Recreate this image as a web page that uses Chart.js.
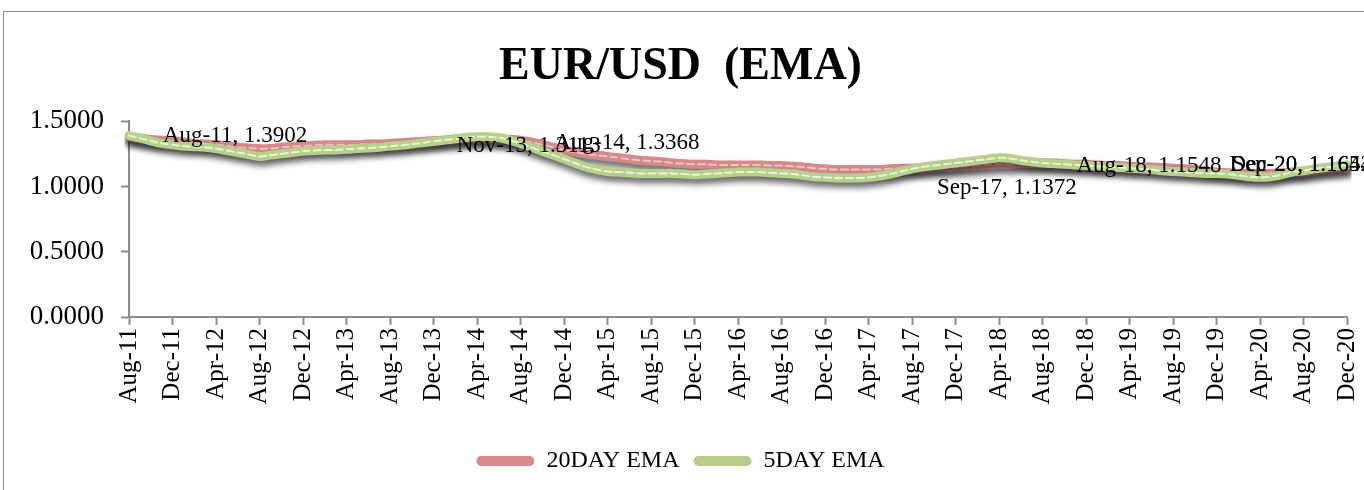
<!DOCTYPE html>
<html>
<head>
<meta charset="utf-8">
<script src="https://cdn.jsdelivr.net/npm/chart.js@4/dist/chart.umd.min.js"></script>
<style>
    body { margin: 0; background: #fff; }
    #frame { position: absolute; left: 3px; top: 11px; width: 1400px; height: 520px; border: 1px solid #8c8c8c; }
    #chart { position: absolute; left: 0; top: 0; }
</style>
</head>
<body>
<div id="frame"></div>
<canvas id="chart" width="1364" height="490"></canvas>
<script>
// Month categories, Aug-11 .. Dec-20
const months = [
    'Aug-11','Sep-11','Oct-11','Nov-11','Dec-11',
    'Jan-12','Feb-12','Mar-12','Apr-12','May-12','Jun-12','Jul-12','Aug-12','Sep-12','Oct-12','Nov-12','Dec-12',
    'Jan-13','Feb-13','Mar-13','Apr-13','May-13','Jun-13','Jul-13','Aug-13','Sep-13','Oct-13','Nov-13','Dec-13',
    'Jan-14','Feb-14','Mar-14','Apr-14','May-14','Jun-14','Jul-14','Aug-14','Sep-14','Oct-14','Nov-14','Dec-14',
    'Jan-15','Feb-15','Mar-15','Apr-15','May-15','Jun-15','Jul-15','Aug-15','Sep-15','Oct-15','Nov-15','Dec-15',
    'Jan-16','Feb-16','Mar-16','Apr-16','May-16','Jun-16','Jul-16','Aug-16','Sep-16','Oct-16','Nov-16','Dec-16',
    'Jan-17','Feb-17','Mar-17','Apr-17','May-17','Jun-17','Jul-17','Aug-17','Sep-17','Oct-17','Nov-17','Dec-17',
    'Jan-18','Feb-18','Mar-18','Apr-18','May-18','Jun-18','Jul-18','Aug-18','Sep-18','Oct-18','Nov-18','Dec-18',
    'Jan-19','Feb-19','Mar-19','Apr-19','May-19','Jun-19','Jul-19','Aug-19','Sep-19','Oct-19','Nov-19','Dec-19',
    'Jan-20','Feb-20','Mar-20','Apr-20','May-20','Jun-20','Jul-20','Aug-20','Sep-20','Oct-20','Nov-20','Dec-20'
];

// 20 day EMA (red)
const ema20 = [
    1.38, 1.37, 1.36, 1.355, 1.35,
    1.34, 1.33, 1.325, 1.32, 1.31, 1.30, 1.295, 1.29, 1.29, 1.30, 1.305, 1.31,
    1.315, 1.32, 1.32, 1.32, 1.32, 1.325, 1.325, 1.33, 1.335, 1.34, 1.345, 1.35,
    1.355, 1.36, 1.365, 1.365, 1.365, 1.36, 1.36, 1.355, 1.34, 1.32, 1.30, 1.28,
    1.265, 1.25, 1.24, 1.23, 1.22, 1.21, 1.20, 1.195, 1.19, 1.18, 1.175, 1.17,
    1.17, 1.165, 1.165, 1.165, 1.165, 1.165, 1.16, 1.16, 1.155, 1.15, 1.14, 1.135,
    1.13, 1.13, 1.13, 1.13, 1.13, 1.135, 1.14, 1.14, 1.14, 1.145, 1.145, 1.15,
    1.155, 1.16, 1.165, 1.17, 1.17, 1.175, 1.175, 1.18, 1.18, 1.175, 1.17, 1.17,
    1.165, 1.16, 1.16, 1.155, 1.15, 1.15, 1.145, 1.14, 1.135, 1.13, 1.12, 1.11,
    1.105, 1.10, 1.10, 1.10, 1.10, 1.105, 1.11, 1.11, 1.12, 1.13, 1.135, 1.14
];

// 5 day EMA (green)
const ema5 = [
    1.39, 1.37, 1.35, 1.33, 1.32,
    1.31, 1.305, 1.30, 1.29, 1.275, 1.26, 1.245, 1.23, 1.24, 1.25, 1.26, 1.27,
    1.275, 1.28, 1.28, 1.285, 1.29, 1.295, 1.30, 1.31, 1.315, 1.325, 1.335, 1.345,
    1.355, 1.365, 1.375, 1.38, 1.38, 1.375, 1.355, 1.33, 1.30, 1.27, 1.24, 1.21,
    1.18, 1.15, 1.13, 1.115, 1.11, 1.105, 1.10, 1.10, 1.10, 1.10, 1.095, 1.09,
    1.095, 1.10, 1.105, 1.11, 1.11, 1.11, 1.105, 1.10, 1.095, 1.085, 1.075, 1.07,
    1.065, 1.065, 1.065, 1.07, 1.08, 1.095, 1.115, 1.135, 1.15, 1.16, 1.17, 1.18,
    1.19, 1.20, 1.21, 1.22, 1.215, 1.20, 1.19, 1.18, 1.175, 1.17, 1.165, 1.16,
    1.155, 1.15, 1.145, 1.14, 1.135, 1.13, 1.12, 1.115, 1.11, 1.105, 1.10, 1.10,
    1.095, 1.085, 1.075, 1.07, 1.075, 1.09, 1.11, 1.12, 1.135, 1.145, 1.155, 1.165
];

// Data labels shown on the chart
const labelCats = ['Aug-11', 'Nov-13', 'Aug-14', 'Sep-17', 'Aug-18', 'Sep-20', 'Dec-20'];
const labelVals = [1.3902, 1.3113, 1.3368, 1.1372, 1.1548, 1.1654, 1.1642];
const labelPlace = ['right', 'right', 'right', 'below', 'right', 'right', 'right'];

const yTicks = [0, 0.5, 1.0, 1.5];

const RED = '#d4898a';
const RED_DASH = '#f3c2c2';
const GREEN = '#b8cf8c';
const GREEN_DASH = '#e9f4d2';
const AXIS = '#8c8c8c';
const FONT = "'Liberation Serif', 'DejaVu Serif', serif";

// Drop shadow under the thick lines
const shadowPlugin = {
    id: 'lineShadow',
    beforeDatasetDraw(chart, args) {
        if (!chart.data.datasets[args.index].shadow) return;
        const ctx = chart.ctx;
        ctx.save();
        ctx.shadowColor = 'rgba(0,0,0,0.6)';
        ctx.shadowBlur = 6;
        ctx.shadowOffsetX = 1;
        ctx.shadowOffsetY = 5;
    },
    afterDatasetDraw(chart, args) {
        if (!chart.data.datasets[args.index].shadow) return;
        chart.ctx.restore();
    }
};

// Category, value labels
const dataLabelPlugin = {
    id: 'dataLabels',
    afterDatasetsDraw(chart) {
        const ctx = chart.ctx;
        const xs = chart.scales.x;
        const ys = chart.scales.y;
        ctx.save();
        ctx.font = '23px ' + FONT;
        ctx.fillStyle = '#000';
        ctx.textBaseline = 'middle';
        labelCats.forEach((cat, i) => {
            const text = cat + ', ' + labelVals[i].toFixed(4);
            let x = xs.getPixelForValue(months.indexOf(cat));
            let y = ys.getPixelForValue(labelVals[i]);
            const w = ctx.measureText(text).width;
            if (labelPlace[i] === 'below') {
                x = x + 14;
                y = y + 19;
            } else {
                x = x + 34;
            }
            if (x + w > chart.width + 8) x = chart.width + 8 - w;
            ctx.textAlign = 'left';
            ctx.fillText(text, x, y);
        });
        ctx.restore();
    }
};

function lineSet(label, data, color, width, dash, order, shadow) {
    return {
        label: label,
        data: data,
        borderColor: color,
        backgroundColor: color,
        borderWidth: width,
        borderDash: dash,
        borderCapStyle: 'round',
        borderJoinStyle: 'round',
        pointRadius: 0,
        pointHoverRadius: 0,
        tension: 0.4,
        fill: false,
        order: order,
        shadow: shadow
    };
}

new Chart(document.getElementById('chart'), {
    type: 'line',
    data: {
        labels: months,
        datasets: [
            lineSet('20DAY EMA', ema20, RED, 9, [], 3, true),
            lineSet('20DAY EMA dash', ema20, RED_DASH, 2, [7, 4], 2, false),
            lineSet('5DAY EMA', ema5, GREEN, 9, [], 1, true),
            lineSet('5DAY EMA dash', ema5, GREEN_DASH, 2, [7, 4], 0, false)
        ]
    },
    options: {
        responsive: false,
        animation: false,
        layout: { padding: { left: 0, right: 3, top: 0, bottom: 7 } },
        plugins: {
            title: {
                display: true,
                text: 'EUR/USD  (EMA)',
                color: '#000',
                font: { family: FONT, size: 46, weight: 'bold' },
                padding: { top: 40, bottom: 26 }
            },
            legend: {
                position: 'bottom',
                labels: {
                    color: '#000',
                    font: { family: FONT, size: 24 },
                    boxWidth: 58,
                    boxHeight: 10,
                    padding: 14,
                    useBorderRadius: true,
                    borderRadius: 5,
                    generateLabels: () => [
                        { text: '20DAY EMA', fillStyle: RED, strokeStyle: RED, lineWidth: 0, borderRadius: 5, datasetIndex: 0 },
                        { text: '5DAY EMA', fillStyle: GREEN, strokeStyle: GREEN, lineWidth: 0, borderRadius: 5, datasetIndex: 2 }
                    ]
                }
            },
            tooltip: { enabled: false }
        },
        scales: {
            x: {
                type: 'category',
                afterFit: scale => {
                    scale.height = 118;
                    scale.paddingRight = 17;
                    scale.paddingLeft = 0;
                },
                border: { display: true, color: AXIS, width: 2 },
                grid: {
                    drawOnChartArea: false,
                    drawTicks: true,
                    tickLength: 8,
                    tickColor: c => (c.index % 4 === 0 ? AXIS : 'rgba(0,0,0,0)'),
                    tickWidth: 2
                },
                ticks: {
                    autoSkip: false,
                    maxRotation: 90,
                    minRotation: 90,
                    padding: 3,
                    color: '#000',
                    font: { family: FONT, size: 25 },
                    callback: (v, i) => (i % 4 === 0 ? months[i] : '')
                }
            },
            y: {
                min: 0,
                max: 1.5,
                afterFit: scale => { scale.width = 129; },
                afterBuildTicks: scale => { scale.ticks = yTicks.map(v => ({ value: v })); },
                border: { display: true, color: AXIS, width: 2 },
                grid: { drawOnChartArea: false, drawTicks: true, tickLength: 8, tickColor: AXIS, tickWidth: 2 },
                ticks: {
                    padding: 17,
                    color: '#000',
                    font: { family: FONT, size: 27 },
                    callback: v => Number(v).toFixed(4)
                }
            }
        }
    },
    plugins: [shadowPlugin, dataLabelPlugin]
});
</script>
</body>
</html>
